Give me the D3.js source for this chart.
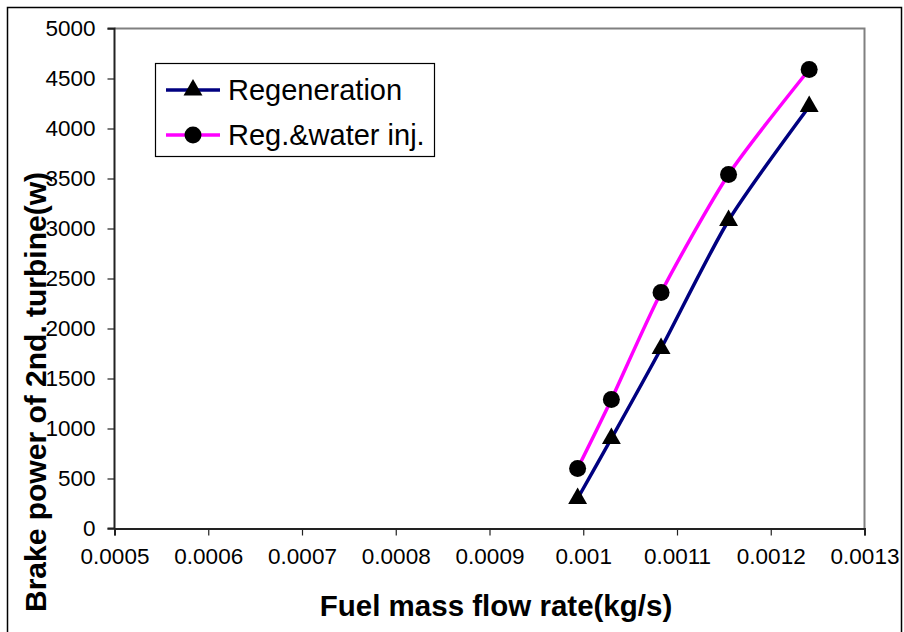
<!DOCTYPE html>
<html><head><meta charset="utf-8">
<script src="https://cdn.jsdelivr.net/npm/d3@7"></script>
<style>body{margin:0;background:#fff}svg{display:block}text{font-family:"Liberation Sans",Arial,sans-serif}</style>
</head><body><svg id="c" width="904" height="632"></svg>
<script>
const fuelFlow = [0.000994, 0.00103, 0.001083, 0.001155, 0.001241];
const regeneration = [300, 900, 1800, 3080, 4220];
const regWaterInj = [600, 1290, 2360, 3540, 4590];
const xTicks = [0.0005, 0.0006, 0.0007, 0.0008, 0.0009, 0.001, 0.0011, 0.0012, 0.0013];
const yTicks = [0, 500, 1000, 1500, 2000, 2500, 3000, 3500, 4000, 4500, 5000];
const seriesNames = ["Regeneration", "Reg.&water inj."];

const svg = d3.select("#c");
const L = 114.5, R = 864.5, T = 28.5, B = 528.5;
const x = d3.scaleLinear().domain([0.0005, 0.0013]).range([L, R]);
const y = d3.scaleLinear().domain([0, 5000]).range([B, T]);

// outer frame
svg.append("rect").attr("x", 7.5).attr("y", 7.5).attr("width", 894).attr("height", 640)
  .attr("fill", "none").attr("stroke", "#000").attr("stroke-width", 1.5);

// plot border top/right
svg.append("path").attr("d", `M${L},${T}H${R}V${B}`).attr("fill", "none").attr("stroke", "#808080").attr("stroke-width", 2);

// axes
const xAxis = d3.axisBottom(x).tickValues(xTicks).tickSize(7).tickPadding(13)
  .tickFormat(d => String(+d.toPrecision(6)));
const gx = svg.append("g").attr("transform", `translate(0,${B})`).call(xAxis);
const yAxis = d3.axisLeft(y).tickValues(yTicks).tickSize(7).tickPadding(12).tickFormat(d => String(d));
const gy = svg.append("g").attr("transform", `translate(${L},0)`).call(yAxis);
[gx, gy].forEach(g => {
  g.select(".domain").attr("stroke", "#222").attr("stroke-width", 2);
  g.selectAll(".tick line").attr("stroke", "#222").attr("stroke-width", 1.2);
  g.selectAll(".tick text").attr("fill", "#000").style("font-size", "22.5px").style("font-family", '"Liberation Sans",Arial,sans-serif');
});
gy.select(".domain").attr("d", `M-7,${B}H0V${T}H-7`);

// lines
const line = d3.line().x(d => x(d[0])).y(d => y(d[1])).curve(d3.curveCardinal.tension(0.3));
const s1 = fuelFlow.map((f, i) => [f, regeneration[i]]);
const s2 = fuelFlow.map((f, i) => [f, regWaterInj[i]]);
svg.append("path").attr("d", line(s1)).attr("fill", "none").attr("stroke", "#000080").attr("stroke-width", 3.5);
svg.append("path").attr("d", line(s2)).attr("fill", "none").attr("stroke", "#ff00ff").attr("stroke-width", 3.5);

const tri = d3.symbol().type(d3.symbolTriangle).size(155);
svg.selectAll(".m1").data(s1).enter().append("path")
  .attr("d", tri).attr("transform", d => `translate(${x(d[0])},${y(d[1])})`).attr("fill", "#000");
svg.selectAll(".m2").data(s2).enter().append("circle")
  .attr("cx", d => x(d[0])).attr("cy", d => y(d[1])).attr("r", 8.5).attr("fill", "#000");

// legend
const lg = svg.append("g");
lg.append("rect").attr("x", 155.5).attr("y", 63.5).attr("width", 279).attr("height", 93)
  .attr("fill", "#fff").attr("stroke", "#000").attr("stroke-width", 1.2);
const colors = ["#000080", "#ff00ff"];
seriesNames.forEach((n, i) => {
  const yy = 90 + i * 45;
  lg.append("line").attr("x1", 166).attr("x2", 220).attr("y1", yy).attr("y2", yy)
    .attr("stroke", colors[i]).attr("stroke-width", 3.5);
  if (i === 0) lg.append("path").attr("d", tri).attr("transform", `translate(193,${yy})`).attr("fill", "#000");
  else lg.append("circle").attr("cx", 193).attr("cy", yy).attr("r", 8.5).attr("fill", "#000");
  lg.append("text").attr("x", 228).attr("y", yy + 10).style("font-size", "29px").text(n);
});

// titles
svg.append("text").attr("x", 496).attr("y", 616).attr("text-anchor", "middle")
  .style("font-size", "29.5px").style("font-weight", "bold").text("Fuel mass flow rate(kg/s)");
svg.append("text").attr("transform", "translate(46,392) rotate(-90)").attr("text-anchor", "middle")
  .style("font-size", "30px").style("font-weight", "bold").text("Brake power of  2nd. turbine(w)");
</script></body></html>
